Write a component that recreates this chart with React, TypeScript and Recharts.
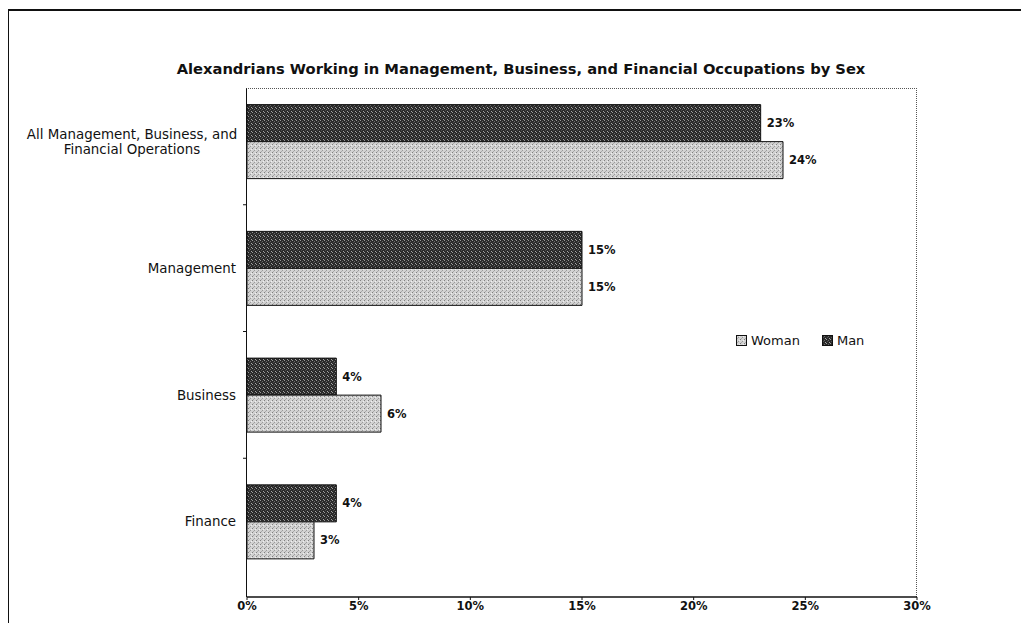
import React from "react";
import {
  BarChart, Bar, XAxis, YAxis, LabelList,
} from "recharts";

const CATEGORIES = [
  "All Management, Business, and Financial Operations",
  "Management",
  "Business",
  "Finance",
];
const MAN = [23, 15, 4, 4];
const WOMAN = [24, 15, 6, 3];
const X_TICKS = [0, 5, 10, 15, 20, 25, 30];

const data = CATEGORIES.map((category, i) => ({ category, man: MAN[i], woman: WOMAN[i] }));

const FONT = "'DejaVu Sans', Arial, sans-serif";
const W = 1021;
const H = 623;
const PLOT_TOP = 78;
const PLOT_PAD_BOTTOM = 12;
const X_AXIS_H = 26;
const BAND = (H - X_AXIS_H - PLOT_PAD_BOTTOM - PLOT_TOP) / CATEGORIES.length;

function CategoryTick(props: any) {
  const { y, payload, index } = props;
  const text: string = payload.value;
  const lines = text.length > 20
    ? ["All Management, Business, and", "Financial Operations"]
    : [text];
  const axisX = 247;
  return (
    <g>
      {lines.map((ln, i) => (
        <text
          key={i}
          x={lines.length > 1 ? axisX - 115 : axisX - 11}
          y={y + (i - (lines.length - 1) / 2) * 15}
          dy="0.35em"
          textAnchor={lines.length > 1 ? "middle" : "end"}
          fontSize={13.4}
          fontFamily={FONT}
          fill="#111"
        >
          {ln}
        </text>
      ))}
      {index < CATEGORIES.length - 1 && (
        <line x1={axisX - 4} x2={axisX} y1={y + BAND / 2} y2={y + BAND / 2} stroke="#111" />
      )}
    </g>
  );
}

function LegendBox() {
  const items = [
    { label: "Woman", fill: "url(#patWoman)" },
    { label: "Man", fill: "url(#patMan)" },
  ];
  return (
    <div style={{
      position: "absolute", left: 736, top: 333, display: "flex", gap: 22,
      fontFamily: FONT, fontSize: 13, color: "#111",
    }}>
      {items.map(it => (
        <div key={it.label} style={{ display: "flex", alignItems: "center", gap: 4 }}>
          <svg width={11} height={11}>
            <rect x={0.5} y={0.5} width={10} height={10} fill={it.fill} stroke="#111" />
          </svg>
          <span>{it.label}</span>
        </div>
      ))}
    </div>
  );
}

export default function App() {
  return (
    <div style={{ position: "absolute", left: 0, top: 0, width: W, height: H, background: "#fff", overflow: "hidden" }}>
      <svg width={0} height={0} style={{ position: "absolute" }}>
        <defs>
          <pattern id="patMan" width={4} height={4} patternUnits="userSpaceOnUse">
            <rect width={4} height={4} fill="#2a2a2a" />
            <rect x={0} y={0} width={1} height={1} fill="#9a9a9a" />
            <rect x={2} y={1} width={1} height={1} fill="#6a6a6a" />
            <rect x={3} y={3} width={1} height={1} fill="#a5a5a5" />
            <rect x={1} y={2} width={1} height={1} fill="#505050" />
          </pattern>
          <pattern id="patWoman" width={4} height={4} patternUnits="userSpaceOnUse">
            <rect width={4} height={4} fill="#d2d2d2" />
            <rect x={0} y={0} width={1} height={1} fill="#808080" />
            <rect x={2} y={2} width={1} height={1} fill="#9a9a9a" />
            <rect x={3} y={1} width={1} height={1} fill="#f0f0f0" />
            <rect x={1} y={3} width={1} height={1} fill="#aaaaaa" />
          </pattern>
        </defs>
      </svg>

      {/* outer frame */}
      <div style={{ position: "absolute", left: 8, top: 9, width: W, height: H, borderTop: "2px solid #111", borderLeft: "1.5px solid #111" }} />

      <div style={{
        position: "absolute", left: 21, width: 1000, top: 60, textAlign: "center",
        fontFamily: FONT, fontWeight: 700, fontSize: 14.7, color: "#111",
      }}>
        Alexandrians Working in Management, Business, and Financial Occupations by Sex
      </div>

      {/* plot border: dotted top & right, solid left axis line */}
      <div style={{
        position: "absolute", left: 246, top: 88, width: 917 - 246, height: 597 - 88,
        borderTop: "1px dotted #555", borderRight: "1px dotted #555",
        borderLeft: "1.5px solid #111", boxSizing: "border-box",
      }} />

      <div style={{ position: "absolute", left: 0, top: 0 }}>
        <BarChart
          width={W}
          height={H}
          data={data}
          layout="vertical"
          margin={{ top: PLOT_TOP, right: W - 917, bottom: 0, left: 0 }}
          barCategoryGap="21%"
          barGap={0}
        >
          <XAxis
            type="number"
            domain={[0, 30]}
            ticks={X_TICKS}
            tickFormatter={v => `${v}%`}
            height={X_AXIS_H}
            axisLine={{ stroke: "#111", strokeWidth: 1.5 }}
            tickLine={{ stroke: "#111" }}
            tickSize={3}
            tickMargin={2}
            tick={{ fontSize: 11.5, fontWeight: 700, fontFamily: FONT, fill: "#111" }}
          />
          <YAxis
            type="category"
            dataKey="category"
            width={247}
            axisLine={false}
            tickLine={false}
            padding={{ top: 0, bottom: PLOT_PAD_BOTTOM }}
            tick={<CategoryTick />}
            interval={0}
          />
          <Bar dataKey="man" name="Man" fill="url(#patMan)" stroke="#111" strokeWidth={1} isAnimationActive={false}>
            <LabelList dataKey="man" position="right" offset={6} formatter={(v: any) => `${v}%`}
              style={{ fontSize: 11.5, fontWeight: 700, fontFamily: FONT, fill: "#111" }} />
          </Bar>
          <Bar dataKey="woman" name="Woman" fill="url(#patWoman)" stroke="#111" strokeWidth={1} isAnimationActive={false}>
            <LabelList dataKey="woman" position="right" offset={6} formatter={(v: any) => `${v}%`}
              style={{ fontSize: 11.5, fontWeight: 700, fontFamily: FONT, fill: "#111" }} />
          </Bar>
        </BarChart>
      </div>

      <LegendBox />
    </div>
  );
}
